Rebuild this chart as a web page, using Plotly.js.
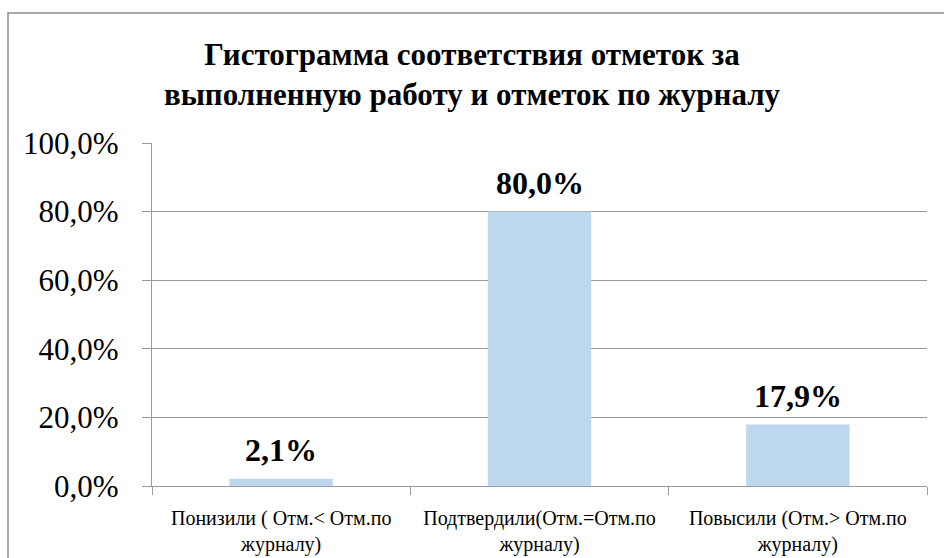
<!DOCTYPE html>
<html><head><meta charset="utf-8">
<script src="https://cdn.plot.ly/plotly-3.0.1.min.js"></script>
<style>body{margin:0;padding:0;background:#fff}#chart{width:944px;height:558px}</style>
</head><body><div id="chart"></div>
<script>
const categories = [
  "Понизили ( Отм.< Отм.по<br>журналу)",
  "Подтвердили(Отм.=Отм.по<br>журналу)",
  "Повысили (Отм.> Отм.по<br>журналу)"
];
const values = [2.1, 80.0, 17.9];
const valueLabels = ["2,1%", "80,0%", "17,9%"];
const titleText = "Гистограмма соответствия отметок за<br>выполненную работу и отметок по журналу";

const serif = "Liberation Serif";
const W = 944, H = 558, L = 152, R = 17, T = 143, B = 72;
const pw = W - L - R, ph = H - T - B;

const trace = {
  type: "bar",
  x: categories,
  y: values,
  marker: {color: "#BDD7EE"},
  hoverinfo: "none"
};

const annotations = categories.map((c, i) => ({
  x: c, y: values[i], xref: "x", yref: "y",
  text: valueLabels[i],
  showarrow: false, yanchor: "bottom", yshift: 9,
  font: {family: serif, size: 32, color: "#000", weight: "bold"}
}));

const layout = {
  width: W, height: H,
  margin: {l: L, r: R, t: T, b: B, pad: 0},
  separators: ", ",
  font: {family: serif, color: "#000"},
  paper_bgcolor: "#fff",
  plot_bgcolor: "#fff",
  showlegend: false,
  bargap: 0.6,
  title: {
    text: titleText,
    font: {family: serif, size: 31, color: "#000", weight: "bold"},
    x: 0.5, xref: "container", y: 1 - 65 / H, yref: "container", yanchor: "top"
  },
  xaxis: {
    type: "category",
    showline: true, linecolor: "#9a9a9a", linewidth: 1.3,
    ticks: "outside", tickson: "boundaries", ticklen: 8, tickcolor: "#9a9a9a",
    showgrid: false,
    tickfont: {family: serif, size: 20, color: "#000"},
    ticklabelstandoff: 14,
    automargin: false
  },
  yaxis: {
    range: [0, 100], dtick: 20,
    tickformat: ".1f", ticksuffix: "%",
    showline: true, linecolor: "#9a9a9a", linewidth: 1.3,
    ticks: "outside", ticklen: 9, tickcolor: "#9a9a9a",
    showgrid: true, gridcolor: "#9a9a9a", gridwidth: 1.3,
    zeroline: false,
    tickfont: {family: serif, size: 31, color: "#000"},
    ticklabelstandoff: 17,
    automargin: false
  },
  annotations: annotations,
  shapes: [{
    type: "rect", xref: "paper", yref: "paper",
    x0: (8 - L) / pw, x1: (W + 20 - L) / pw,
    y0: -(H + 20 - (T + ph)) / ph, y1: 1 + (T - 13) / ph,
    line: {color: "#8c8c8c", width: 1.5}, fillcolor: "rgba(0,0,0,0)", layer: "below"
  }]
};

Plotly.newPlot("chart", [trace], layout, {displayModeBar: false, staticPlot: true});
</script></body></html>
